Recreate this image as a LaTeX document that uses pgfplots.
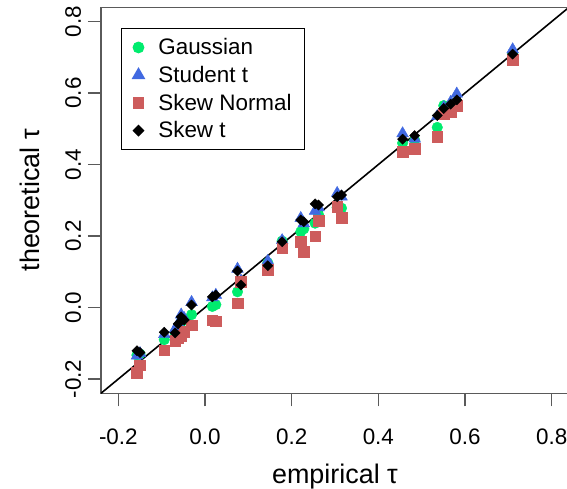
\documentclass[border=0pt]{standalone}
\usepackage{pgfplots}
\pgfplotsset{compat=1.18}
\usepackage{fontspec}
\setmainfont{Liberation Sans}

\definecolor{gaus}{RGB}{0,236,110}
\definecolor{stud}{RGB}{65,105,225}
\definecolor{skn}{RGB}{205,92,92}
\definecolor{boxgray}{RGB}{90,90,90}

\pgfplotstableread{
x y
-0.157 -0.133
-0.150 -0.130
-0.094 -0.090
-0.069 -0.070
-0.062 -0.055
-0.055 -0.040
-0.048 -0.035
-0.031 -0.020
0.017 0.003
0.025 0.008
0.075 0.044
0.083 0.070
0.145 0.125
0.178 0.186
0.221 0.212
0.228 0.220
0.254 0.236
0.262 0.260
0.305 0.280
0.315 0.278
0.456 0.460
0.484 0.468
0.536 0.504
0.551 0.565
0.567 0.560
0.581 0.575
0.710 0.710
}\gaussian

\pgfplotstableread{
x y
-0.157 -0.135
-0.150 -0.128
-0.094 -0.075
-0.069 -0.060
-0.062 -0.045
-0.055 -0.020
-0.048 -0.030
-0.031 0.015
0.017 0.028
0.025 0.035
0.075 0.108
0.083 0.075
0.145 0.130
0.178 0.188
0.221 0.250
0.228 0.235
0.254 0.270
0.262 0.280
0.305 0.320
0.315 0.310
0.456 0.487
0.484 0.472
0.536 0.535
0.551 0.560
0.567 0.575
0.581 0.598
0.710 0.722
}\student

\pgfplotstableread{
x y
-0.157 -0.183
-0.150 -0.161
-0.094 -0.119
-0.069 -0.093
-0.062 -0.085
-0.055 -0.078
-0.048 -0.068
-0.031 -0.049
0.017 -0.035
0.025 -0.038
0.075 0.012
0.083 0.072
0.145 0.105
0.178 0.166
0.221 0.184
0.228 0.156
0.254 0.200
0.262 0.243
0.305 0.282
0.315 0.252
0.456 0.436
0.484 0.445
0.536 0.478
0.551 0.543
0.567 0.547
0.581 0.565
0.710 0.693
}\skewnormal

\pgfplotstableread{
x y
-0.157 -0.121
-0.150 -0.126
-0.094 -0.069
-0.069 -0.071
-0.062 -0.046
-0.055 -0.026
-0.048 -0.035
-0.031 0.007
0.017 0.030
0.025 0.035
0.075 0.102
0.083 0.063
0.145 0.117
0.178 0.184
0.221 0.245
0.228 0.240
0.254 0.290
0.262 0.287
0.305 0.310
0.315 0.315
0.456 0.471
0.484 0.481
0.536 0.537
0.551 0.557
0.567 0.569
0.581 0.581
0.710 0.709
}\skewt

\begin{document}
\begin{tikzpicture}
\begin{axis}[
  scale only axis,
  width=468bp, height=386bp,
  xmin=-0.24, xmax=0.84,
  ymin=-0.24, ymax=0.84,
  axis line style={boxgray, line width=1.2bp},
  xtick={-0.2,0,0.2,0.4,0.6,0.8},
  ytick={-0.2,0,0.2,0.4,0.6,0.8},
  xticklabels={-0.2,0.0,0.2,0.4,0.6,0.8},
  yticklabels={-0.2,0.0,0.2,0.4,0.6,0.8},
  xtick pos=bottom, ytick pos=left,
  tick align=outside,
  major tick length=13bp,
  tick style={boxgray, line width=1.2bp},
  xticklabel style={font=\fontsize{22.5}{27}\selectfont, anchor=base, yshift=-38bp},
  yticklabel style={font=\fontsize{22.5}{27}\selectfont, xshift=-7bp, rotate=90, anchor=base},
  xlabel={empirical τ},
  ylabel={theoretical τ},
  xlabel style={font=\fontsize{27}{32}\selectfont, at={(axis description cs:0.5,-0.2332)}, anchor=base},
  ylabel style={font=\fontsize{27}{32}\selectfont, at={(axis description cs:-0.132,0.5)}, anchor=base},
  legend cell align=left,
  legend style={at={(axis description cs:0,1)}, anchor=north west,
    xshift=20bp, yshift=-20.7bp, draw=black, line width=1.2bp,
    font=\fontsize{22.5}{27}\selectfont, row sep=6bp, column sep=12bp,
    inner xsep=11bp, inner ysep=8bp},
  legend image code/.code={\draw[#1] plot coordinates {(0bp,0bp)};},
  clip=true,
]
\addplot[only marks, mark=*, mark size=5.3bp, gaus, mark options={draw=gaus, fill=gaus}] table {\gaussian};
\addlegendentry{Gaussian}
\addplot[only marks, mark=triangle*, mark size=6.8bp, stud, mark options={draw=stud, fill=stud}] table {\student};
\addlegendentry{Student t}
\addplot[only marks, mark=square*, mark size=5.3bp, skn, mark options={draw=skn, fill=skn}] table {\skewnormal};
\addlegendentry{Skew Normal}
\addplot[black, line width=1.6bp, forget plot] coordinates {(-0.24,-0.24) (0.84,0.84)};
\addplot[only marks, mark=square*, mark size=3.6bp, black, mark options={rotate=45, draw=black, fill=black}] table {\skewt};
\addlegendentry{Skew t}
\end{axis}
\pgfresetboundingbox
\path[use as bounding box] (-101bp,-95.7bp) rectangle (466bp,393.3bp);
\end{tikzpicture}
\end{document}
